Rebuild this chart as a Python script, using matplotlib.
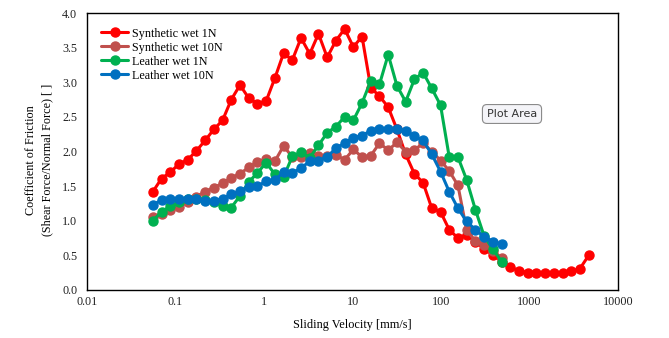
import matplotlib
matplotlib.use("Agg")
import matplotlib.pyplot as plt
from matplotlib.ticker import FixedLocator, FixedFormatter, NullLocator

velocity = [0.0555, 0.0696, 0.0873, 0.1095, 0.1374, 0.1723, 0.2163, 0.2714, 0.3404, 0.4271,
            0.5358, 0.6722, 0.8433, 1.058, 1.327, 1.665, 2.089, 2.621, 3.289, 4.126,
            5.176, 6.494, 8.147, 10.22, 12.82, 16.09, 20.18, 25.32, 31.77, 39.86,
            50.0, 62.73, 78.70, 98.74, 123.9, 155.4, 195.0, 244.6, 306.9, 385.1,
            483.1, 606.1, 760.3, 953.9, 1197, 1502, 1884, 2364, 2965, 3720, 4667]

synthetic_1n = [1.42, 1.61, 1.70, 1.82, 1.88, 2.01, 2.16, 2.32, 2.45, 2.75,
                2.96, 2.77, 2.69, 2.73, 3.06, 3.42, 3.32, 3.64, 3.41, 3.70,
                3.36, 3.60, 3.77, 3.51, 3.66, 2.92, 2.80, 2.64, 2.32, 1.96,
                1.68, 1.55, 1.18, 1.13, 0.87, 0.75, 0.80, 0.70, 0.59, 0.51,
                0.41, 0.33, 0.28, 0.25, 0.24, 0.24, 0.24, 0.25, 0.27, 0.31, 0.50]

synthetic_10n = [1.05, 1.10, 1.15, 1.20, 1.27, 1.35, 1.42, 1.48, 1.54, 1.62,
                 1.68, 1.77, 1.85, 1.89, 1.86, 2.08, 1.92, 1.92, 1.98, 1.94,
                 1.93, 1.95, 1.88, 2.03, 1.92, 1.94, 2.12, 2.02, 2.13, 2.00,
                 2.02, 2.12, 2.00, 1.87, 1.72, 1.51, 0.86, 0.71, 0.65, 0.57, 0.46]

leather_1n = [1.00, 1.13, 1.21, 1.27, 1.32, 1.32, 1.30, 1.27, 1.22, 1.19,
              1.36, 1.56, 1.69, 1.84, 1.67, 1.63, 1.93, 1.99, 1.91, 2.09,
              2.27, 2.36, 2.50, 2.45, 2.70, 3.02, 2.97, 3.40, 2.95, 2.72,
              3.04, 3.14, 2.91, 2.67, 1.92, 1.92, 1.59, 1.16, 0.78, 0.59, 0.41]

leather_10n = [1.23, 1.30, 1.32, 1.32, 1.31, 1.31, 1.29, 1.29, 1.32, 1.38,
               1.43, 1.49, 1.50, 1.57, 1.59, 1.70, 1.69, 1.76, 1.86, 1.87,
               1.92, 2.05, 2.12, 2.20, 2.23, 2.30, 2.32, 2.33, 2.32, 2.30,
               2.22, 2.16, 1.96, 1.71, 1.42, 1.18, 0.99, 0.87, 0.77, 0.70, 0.66]

series_labels = ["Synthetic wet 1N", "Synthetic wet 10N", "Leather wet 1N", "Leather wet 10N"]
series_colors = ["#FF0000", "#C0504D", "#00B050", "#0070C0"]

x_ticks = [0.01, 0.1, 1, 10, 100, 1000, 10000]
x_tick_labels = ["0.01", "0.1", "1", "10", "100", "1000", "10000"]
y_ticks = [0.0, 0.5, 1.0, 1.5, 2.0, 2.5, 3.0, 3.5, 4.0]

plt.rcParams['font.family'] = ['Liberation Serif', 'DejaVu Serif']

fig = plt.figure(figsize=(6.69, 3.38), dpi=100)
ax = fig.add_axes([87/669, 1 - 290/338, (618-87)/669, (290-13)/338])

all_series = [synthetic_1n, synthetic_10n, leather_1n, leather_10n]
for vals, lab, col in zip(all_series, series_labels, series_colors):
    ax.plot(velocity[:len(vals)], vals, color=col, lw=2.2, marker='o', ms=6.5,
            label=lab, solid_capstyle='round')

ax.set_xscale('log')
ax.set_xlim(0.01, 10000)
ax.set_ylim(0, 4.0)
ax.xaxis.set_major_locator(FixedLocator(x_ticks))
ax.xaxis.set_major_formatter(FixedFormatter(x_tick_labels))
ax.xaxis.set_minor_locator(NullLocator())
ax.set_yticks(y_ticks)
ax.set_yticklabels([f"{t:.1f}" for t in y_ticks])
ax.tick_params(axis='both', length=0, labelsize=8.7, colors='#222222')
ax.tick_params(axis='x', pad=4)
ax.tick_params(axis='y', pad=7)
for sp in ax.spines.values():
    sp.set_linewidth(1.0)
    sp.set_color('black')

ax.set_xlabel("Sliding Velocity [mm/s]", fontsize=8.8, labelpad=8)
ax.set_ylabel("Coefficient of Friction\n(Shear Force/Normal Force) [ ]", fontsize=8.7,
              linespacing=1.45)
ax.yaxis.set_label_coords(-0.064, 0.47)

ax.legend(loc='upper left', bbox_to_anchor=(0.0, 1.0), frameon=False, fontsize=8.7,
          handlelength=2.2, handletextpad=0.3, labelspacing=0.17, borderaxespad=0.8,
          markerscale=1.0)

fig.text(512/669, 1 - 114/338, "Plot Area", fontsize=8, family=['DejaVu Sans'],
         color='#333333', ha='center', va='center',
         bbox=dict(boxstyle='round,pad=0.4', fc='#F4F4F8', ec='#8A8A8A', lw=0.8))

fig.savefig("out.png", dpi=100, facecolor='white')
